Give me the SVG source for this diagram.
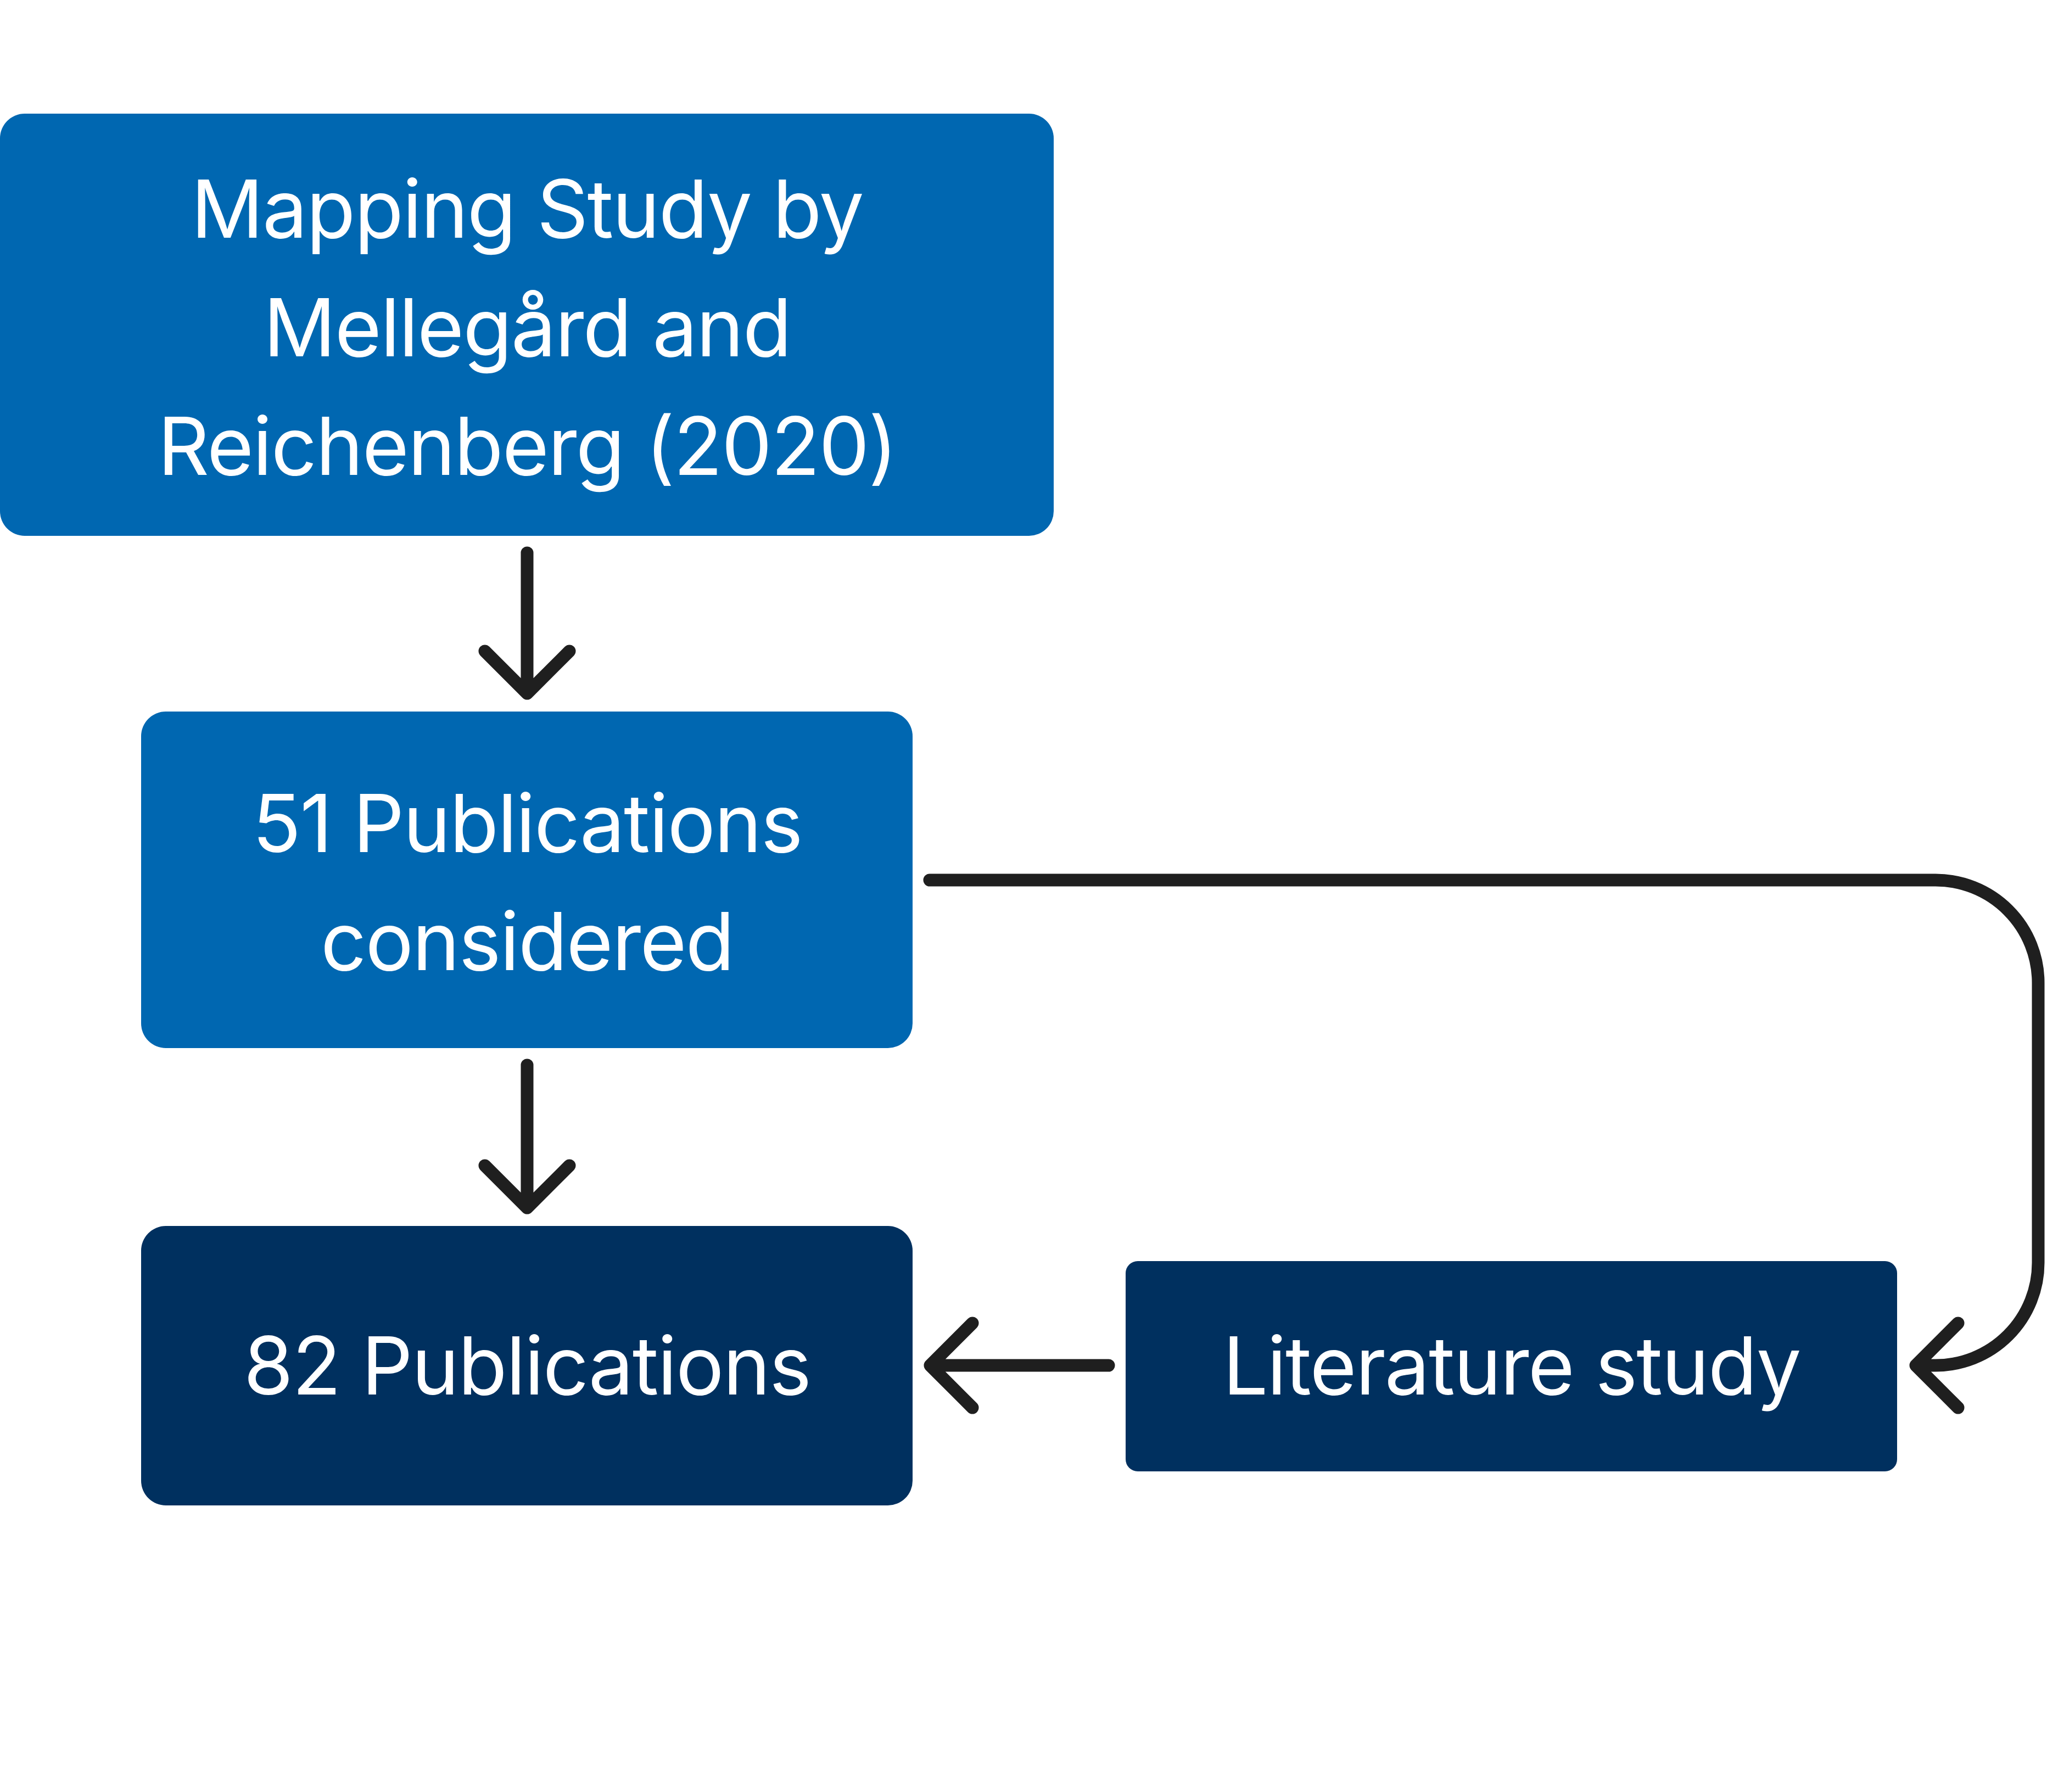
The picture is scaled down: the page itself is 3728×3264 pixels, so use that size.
<svg xmlns="http://www.w3.org/2000/svg" width="3728" height="3264" viewBox="0 0 3728 3264">
  <style>
    .lbl { font-family: Inter, "Noto Sans", "Liberation Sans", sans-serif; font-size: 146px; letter-spacing: -1.9px; fill: #FFFFFF; text-anchor: middle; }
    .blue { fill: #0067B1; }
    .navy { fill: #00305F; }
    .conn { fill: none; stroke: #1F1F1F; stroke-width: 23; stroke-linecap: round; stroke-linejoin: round; }
  </style>
  <rect x="0" y="0" width="3728" height="3264" fill="#FFFFFF"/>
  <g id="node-mapping">
    <rect class="blue" x="0" y="207" width="1919" height="769" rx="45" ry="45"/>
    <text class="lbl" x="960" y="433">Mapping Study by</text>
    <text class="lbl" x="960" y="649">Mellegård and</text>
    <text class="lbl" x="960" y="865">Reichenberg (2020)</text>
  </g>
  <g id="node-51">
    <rect class="blue" x="257" y="1296" width="1405" height="613" rx="45" ry="45"/>
    <text class="lbl" x="960" y="1552">51 Publications</text>
    <text class="lbl" x="960" y="1767">considered</text>
  </g>
  <g id="node-82">
    <rect class="navy" x="257" y="2233" width="1405" height="509" rx="45" ry="45"/>
    <text class="lbl" x="960" y="2540">82 Publications</text>
  </g>
  <g id="node-literature">
    <rect class="navy" x="2050" y="2297" width="1405" height="383" rx="22" ry="22"/>
    <text class="lbl" x="2753" y="2540">Literature study</text>
  </g>
  <g id="connectors">
    <path class="conn" d="M960 1007 V1263 M883 1186 L960 1263 L1037 1186"/>
    <path class="conn" d="M960 1940 V2200 M883 2123 L960 2200 L1037 2123"/>
    <path class="conn" d="M2019 2487 H1694 M1771 2410 L1694 2487 L1771 2564"/>
    <path class="conn" d="M1693 1603 H3525 A187 187 0 0 1 3712 1790 V2300 A187 187 0 0 1 3525 2487 H3489 M3566 2410 L3489 2487 L3566 2564"/>
  </g>
</svg>
